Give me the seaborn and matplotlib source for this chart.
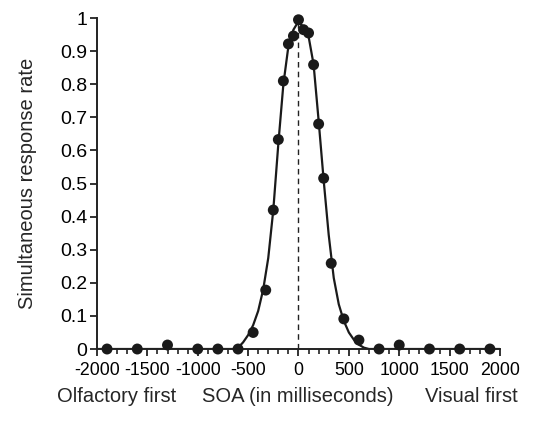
import numpy as np
import pandas as pd
import matplotlib
matplotlib.use('Agg')
import matplotlib.pyplot as plt
import seaborn as sns
from matplotlib.ticker import MultipleLocator, FormatStrFormatter

# 数据：SOA (毫秒) 与同时反应率
soa = [-1900, -1600, -1300, -1000, -800, -600, -450, -325, -250, -200, -150, -100, -50,
       0, 50, 100, 150, 200, 250, 325, 450, 600, 800, 1000, 1300, 1600, 1900]
rate = [0.0, 0.0, 0.012, 0.0, 0.0, 0.0, 0.05, 0.178, 0.42, 0.633, 0.81, 0.922, 0.946,
        0.995, 0.965, 0.955, 0.859, 0.68, 0.516, 0.259, 0.091, 0.027, 0.0, 0.012, 0.0, 0.0, 0.0]

# 拟合曲线
fit_x = [-2000, -700, -650, -600, -550, -500, -450, -400, -350, -300, -250, -200, -150, -100, -50,
         0, 50, 100, 150, 200, 250, 300, 350, 400, 450, 500, 550, 600, 650, 700, 2000]
fit_y = [0.0, 0.0, 0.0, 0.004, 0.02, 0.042, 0.072, 0.115, 0.18, 0.275, 0.42, 0.62, 0.8, 0.915, 0.965,
         0.99, 0.972, 0.945, 0.86, 0.69, 0.51, 0.345, 0.215, 0.135, 0.085, 0.05, 0.028, 0.013, 0.004, 0.0, 0.0]

pts = pd.DataFrame({'SOA': soa, 'rate': rate})
fit = pd.DataFrame({'SOA': fit_x, 'rate': fit_y})

sns.set_style('ticks')
plt.rcParams['font.family'] = ['Liberation Sans', 'DejaVu Sans']
plt.rcParams['axes.unicode_minus'] = False

fs = 14.5
fig = plt.figure(figsize=(5.34, 4.21), dpi=100)
ax = fig.add_axes([0.1816, 0.171, 0.7547, 0.786])

ax.axvline(0, ymin=0, ymax=0.99, color='#222222', lw=1.0, ls=(0, (4, 3)), zorder=1)
sns.lineplot(data=fit, x='SOA', y='rate', color='#1a1a1a', lw=1.6, ax=ax, zorder=2)
sns.scatterplot(data=pts, x='SOA', y='rate', color='#1a1a1a', s=62, edgecolor='none',
                ax=ax, zorder=3, clip_on=False)

ax.set_xlim(-2000, 2000)
ax.set_ylim(0, 1)
ax.xaxis.set_major_locator(MultipleLocator(500))
ax.xaxis.set_minor_locator(MultipleLocator(100))
ax.yaxis.set_major_locator(MultipleLocator(0.1))
ax.yaxis.set_major_formatter(FormatStrFormatter('%g'))
ax.tick_params(axis='both', which='major', length=5, width=1.3,
               color='#222222', labelcolor='black')
ax.tick_params(axis='x', which='major', labelsize=12.8, pad=4)
ax.tick_params(axis='y', which='major', labelsize=14, pad=2)
ax.tick_params(axis='x', which='minor', length=3.5, width=1.2, color='#222222')

sns.despine(ax=ax)
for s in ['left', 'bottom']:
    ax.spines[s].set_linewidth(1.4)
    ax.spines[s].set_color('#222222')

ax.set_xlabel('')
ax.set_ylabel('Simultaneous response rate', fontsize=fs)
ax.yaxis.set_label_coords(-0.15, 0.5)

fig.text(117 / 534, 1 - 397 / 421, 'Olfactory first', ha='center', va='center', fontsize=fs)
fig.text(298 / 534, 1 - 397 / 421, 'SOA (in milliseconds)', ha='center', va='center', fontsize=fs)
fig.text(471 / 534, 1 - 397 / 421, 'Visual first', ha='center', va='center', fontsize=fs)

fig.savefig('out.png', dpi=100)
